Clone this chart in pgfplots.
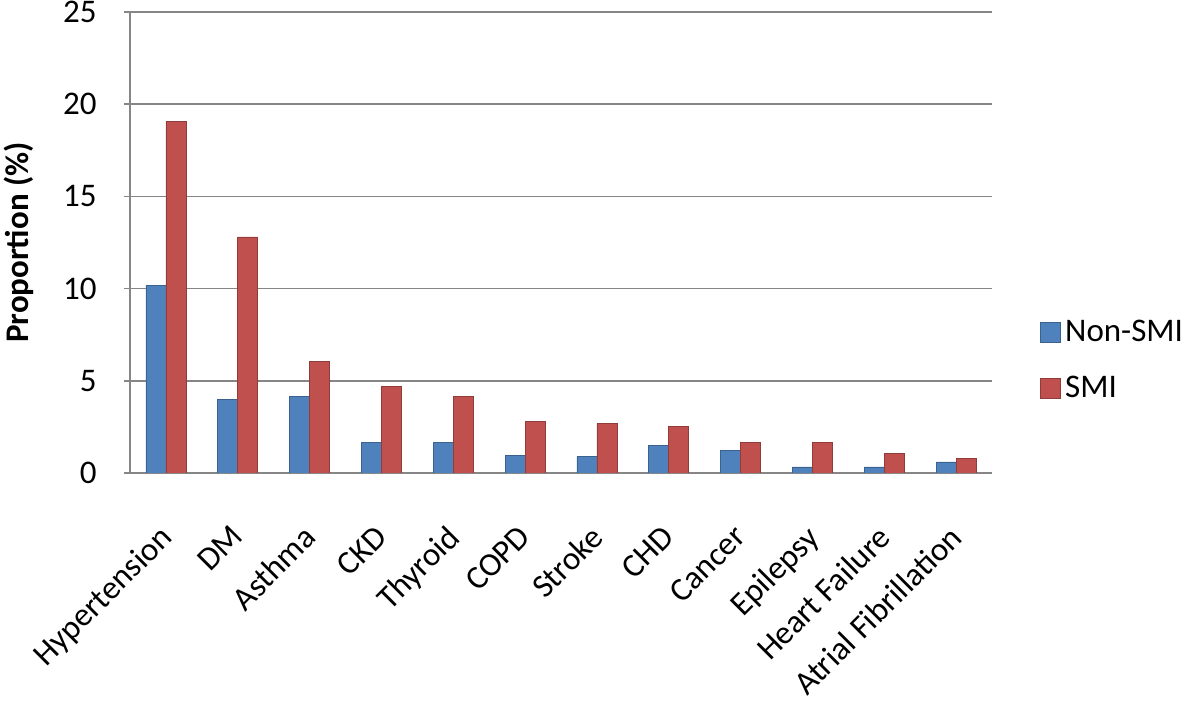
\documentclass[border=0pt]{standalone}
\usepackage{fontspec}
\setmainfont{Carlito}
\usepackage{pgfplots}
\pgfplotsset{compat=1.18}
\definecolor{xlblue}{HTML}{4F81BD}
\definecolor{xlred}{HTML}{C0504D}
\definecolor{xlgrid}{HTML}{868686}
\newcommand{\bigfont}{\fontsize{16.5}{19}\selectfont}
\begin{document}
\begin{tikzpicture}
\begin{axis}[
  name=ax,
  width=431pt, height=230.5pt, scale only axis,
  ybar=0pt, bar width=10pt,
  xmin=-0.5, xmax=11.5, ymin=0, ymax=25,
  xtick={0,...,11},
  xticklabels={Hypertension,DM,Asthma,CKD,Thyroid,COPD,Stroke,CHD,Cancer,Epilepsy,Heart Failure,Atrial Fibrillation},
  ytick={0,5,...,25},
  axis x line*=bottom, axis y line*=left,
  axis line style={xlgrid, line width=0.75pt, -},
  ymajorgrids, grid style={xlgrid, line width=0.75pt},
  tick align=outside, major tick length=3pt,
  major x tick style={draw=none},
  ytick style={xlgrid, line width=0.75pt},
  /pgf/number format/assume math mode=true,
  tick label style={font=\bigfont, text=black},
  yticklabel style={anchor=east, inner sep=0pt, xshift=-13.5pt},
  xticklabel style={anchor=north east, inner sep=0pt, xshift=-4pt, yshift=-22pt, rotate=45},
  ylabel={Proportion (\%)},
  every axis y label/.style={at={(axis description cs:0,0.5)}, anchor=center, xshift=-55.5pt, rotate=90, font=\bigfont\bfseries},
  legend style={at={(1,0.244)}, anchor=west, xshift=24pt, draw=none, fill=none, font=\bigfont, row sep=12pt, inner sep=0pt},
  legend cell align=left,
  legend image code/.code={\fill[#1] (0pt,-5pt) rectangle (10pt,5pt);},
]
\addplot[fill=xlblue, draw=xlblue!75!black, line width=0.4pt] coordinates {
  (0,10.15) (1,4.0) (2,4.13) (3,1.65) (4,1.65) (5,0.95)
  (6,0.9) (7,1.5) (8,1.2) (9,0.33) (10,0.33) (11,0.6)};
\addplot[fill=xlred, draw=xlred!75!black, line width=0.4pt] coordinates {
  (0,19.08) (1,12.8) (2,6.03) (3,4.71) (4,4.13) (5,2.81)
  (6,2.68) (7,2.54) (8,1.65) (9,1.65) (10,1.05) (11,0.78)};
\legend{Non-SMI,SMI}
\end{axis}
\pgfresetboundingbox
\path[use as bounding box] ([shift={(-65pt,-115.5pt)}]ax.south west) rectangle ([shift={(535pt,236.5pt)}]ax.south west);
\end{tikzpicture}
\end{document}
